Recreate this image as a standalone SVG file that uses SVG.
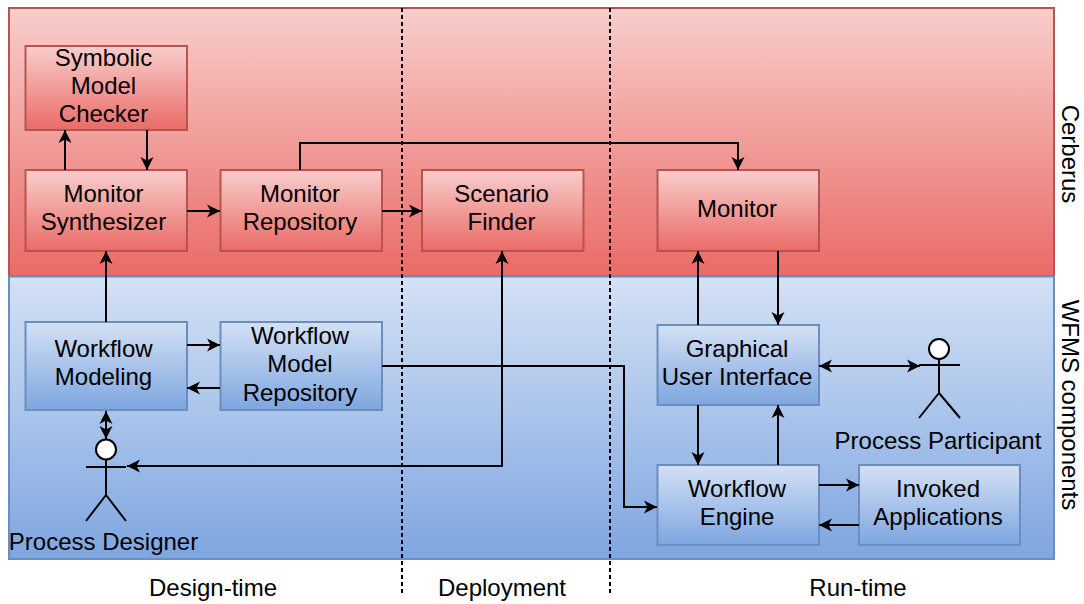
<svg xmlns="http://www.w3.org/2000/svg" width="1084" height="604" viewBox="0 0 1084 604">
<style>
text{font-family:"Liberation Sans",Arial,sans-serif;font-size:24px;fill:#000;text-anchor:middle}
.r{fill:url(#red);stroke:#b85450;stroke-width:2}
.b{fill:url(#blue);stroke:#6c8ebf;stroke-width:2}
.c{fill:none;stroke:#000;stroke-width:2}
.d{fill:none;stroke:#000;stroke-width:2;stroke-dasharray:4 3}
.a{fill:#fff;stroke:#000;stroke-width:2}
</style>
<defs>
<linearGradient id="red" x1="0" y1="0" x2="0" y2="1"><stop offset="0" stop-color="#f8cecc"/><stop offset="1" stop-color="#ea6b66"/></linearGradient>
<linearGradient id="blue" x1="0" y1="0" x2="0" y2="1"><stop offset="0" stop-color="#d4e1f5"/><stop offset="1" stop-color="#7ea6e0"/></linearGradient>
<marker id="e" markerUnits="userSpaceOnUse" markerWidth="15" markerHeight="15" refX="14" refY="7.500" orient="auto-start-reverse"><path d="M1 1L14 7.500L1 14L4.500 7.500Z" fill="#000"/></marker>
</defs>
<g id="lane-cerberus"><rect class="r" x="9" y="8" width="1045" height="268.500"/></g>
<g id="lane-wfms"><rect class="b" x="9" y="276.500" width="1045" height="282.500"/></g>
<g id="symbolic-model-checker"><rect class="r" x="25.500" y="46" width="161.500" height="84"/><text x="103.500" y="66">Symbolic</text><text x="103.500" y="94">Model</text><text x="103.500" y="122">Checker</text></g>
<g id="monitor-synthesizer"><rect class="r" x="25.500" y="170" width="161.500" height="81"/><text x="103.500" y="202">Monitor</text><text x="103.500" y="230">Synthesizer</text></g>
<g id="monitor-repository"><rect class="r" x="220.500" y="170" width="161.500" height="81"/><text x="300" y="202">Monitor</text><text x="300" y="230">Repository</text></g>
<g id="scenario-finder"><rect class="r" x="422" y="170" width="161.500" height="81"/><text x="501.500" y="202">Scenario</text><text x="501.500" y="230">Finder</text></g>
<g id="monitor"><rect class="r" x="657.500" y="170" width="161.500" height="81"/><text x="737" y="217">Monitor</text></g>
<g id="workflow-modeling"><rect class="b" x="25.500" y="322" width="161.500" height="88"/><text x="103.500" y="357">Workflow</text><text x="103.500" y="385">Modeling</text></g>
<g id="workflow-model-repository"><rect class="b" x="220.500" y="322" width="161.500" height="88"/><text x="300" y="344">Workflow</text><text x="300" y="372">Model</text><text x="300" y="401">Repository</text></g>
<g id="graphical-user-interface"><rect class="b" x="657.500" y="325" width="161.500" height="80"/><text x="737" y="357">Graphical</text><text x="737" y="385">User Interface</text></g>
<g id="workflow-engine"><rect class="b" x="657.500" y="465" width="161.500" height="80"/><text x="737" y="497">Workflow</text><text x="737" y="525">Engine</text></g>
<g id="invoked-applications"><rect class="b" x="859" y="465" width="161" height="80"/><text x="938" y="497">Invoked</text><text x="938" y="525">Applications</text></g>
<g id="process-designer"><circle class="a" cx="106" cy="449.500" r="10"/><path class="c" d="M106 460V495M86 467H126M106 495L86 521M106 495L126 521"/><text x="103.500" y="550">Process Designer</text></g>
<g id="process-participant"><circle class="a" cx="939" cy="349" r="10"/><path class="c" d="M939 359V393M919 365H960M939 393L919 418M939 393L960 418"/><text x="938" y="449">Process Participant</text></g>
<g id="connectors">
<path class="c" marker-end="url(#e)" d="M65 170V130"/>
<path class="c" marker-end="url(#e)" d="M147 130V170"/>
<path class="c" marker-end="url(#e)" d="M187 211H220"/>
<path class="c" marker-end="url(#e)" d="M382 211H422"/>
<path class="c" marker-end="url(#e)" d="M300 170V143H738V170"/>
<path class="c" marker-end="url(#e)" d="M106 322V251"/>
<path class="c" marker-end="url(#e)" d="M187 345H220"/>
<path class="c" marker-end="url(#e)" d="M220 388H187"/>
<path class="c" marker-start="url(#e)" marker-end="url(#e)" d="M106 411V439"/>
<path class="c" marker-start="url(#e)" marker-end="url(#e)" d="M127 466H502V251"/>
<path class="c" marker-end="url(#e)" d="M382 366H624V507H657"/>
<path class="c" marker-end="url(#e)" d="M698 325V251"/>
<path class="c" marker-end="url(#e)" d="M778 251V325"/>
<path class="c" marker-end="url(#e)" d="M698 405V465"/>
<path class="c" marker-end="url(#e)" d="M778 465V405"/>
<path class="c" marker-start="url(#e)" marker-end="url(#e)" d="M819 366H920"/>
<path class="c" marker-end="url(#e)" d="M819 485H859"/>
<path class="c" marker-end="url(#e)" d="M859 525H819"/>
<path class="d" d="M402 8V594"/>
<path class="d" d="M610 8V594"/>
</g>
<g id="labels">
<text x="213" y="596">Design-time</text>
<text x="502" y="596">Deployment</text>
<text x="858" y="596">Run-time</text>
<text transform="translate(1062 154) rotate(90)">Cerberus</text>
<text transform="translate(1062 405) rotate(90)">WFMS components</text>
</g>
</svg>
